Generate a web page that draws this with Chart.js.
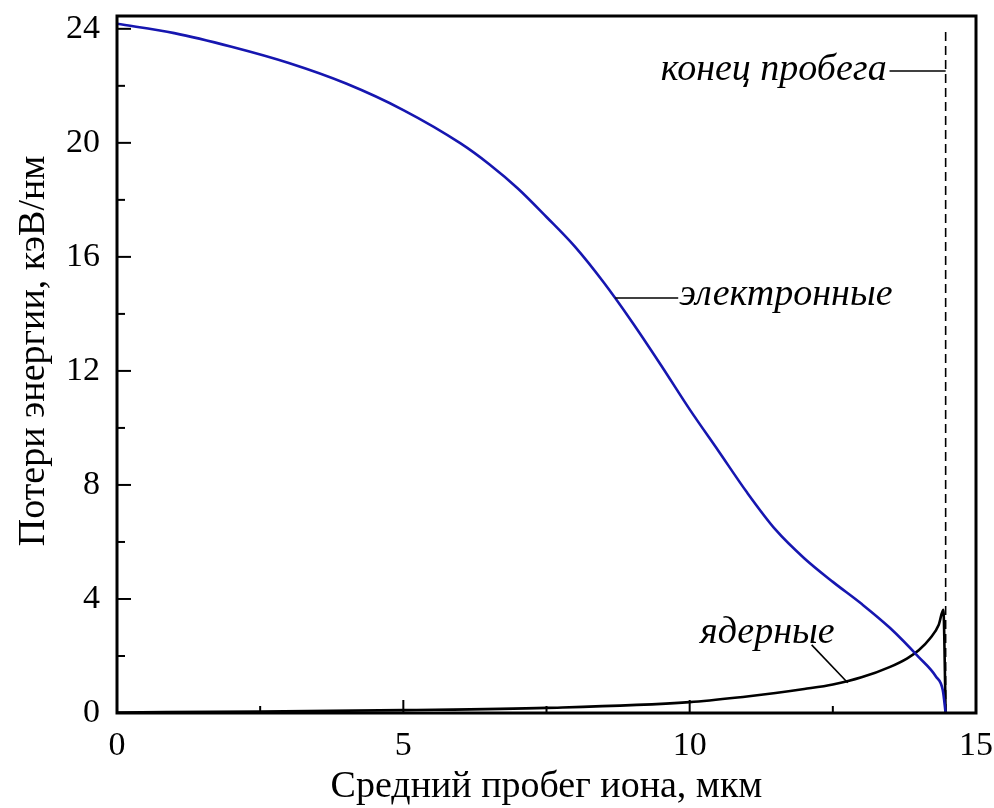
<!DOCTYPE html>
<html>
<head>
<meta charset="utf-8">
<script src="https://cdn.jsdelivr.net/npm/chart.js@4.4.1/dist/chart.umd.min.js"></script>
<style>
  html, body { margin: 0; padding: 0; background: #fff; }
  #wrap { width: 994px; height: 808px; }
</style>
</head>
<body>
<div id="wrap"><canvas id="lossChart"></canvas></div>
<script>
// electronic stopping (blue)
const elecX = [0, 1, 2, 3, 4, 5, 6, 6.5, 7, 7.5, 8, 8.5, 9, 9.5, 10, 10.5, 11, 11.5, 12, 12.5, 13, 13.5, 14, 14.3, 14.42, 14.47];
const elecY = [24.18, 23.85, 23.37, 22.8, 22.08, 21.15, 19.98, 19.25, 18.4, 17.4, 16.35, 15.1, 13.7, 12.2, 10.65, 9.2, 7.74, 6.43, 5.43, 4.6, 3.83, 2.98, 1.96, 1.28, 0.8, 0];

// nuclear stopping (black)
const nuclX = [0, 2.5, 5, 7.5, 10, 11, 11.5, 12, 12.5, 13, 13.5, 13.8, 14, 14.2, 14.35, 14.43, 14.47];
const nuclY = [0.02, 0.05, 0.1, 0.18, 0.38, 0.58, 0.7, 0.84, 1.0, 1.25, 1.62, 1.92, 2.2, 2.62, 3.1, 3.62, 0];

// end of range marker
const rangeEndX = 14.47;
const rangeEndY = [0, 24];

const xTicks = [0, 5, 10, 15];
const xMinor = [2.5, 7.5, 12.5];
const yTicks = [0, 4, 8, 12, 16, 20, 24];
const yMinor = [2, 6, 10, 14, 18, 22];

const yTitle = 'Потери энергии, кэВ/нм';

const notes = [
  { text: 'конец пробега', x: 13.44, y: 22.2, align: 'right', line: [[13.49, 22.52], [14.47, 22.52]] },
  { text: 'электронные', x: 9.82, y: 14.3, align: 'left', line: [[8.70, 14.56], [9.80, 14.56]] },
  { text: 'ядерные', x: 10.18, y: 2.46, align: 'left', line: [[12.13, 2.39], [12.76, 1.06]] }
];

const serif = '"Liberation Serif", "DejaVu Serif", serif';

const zip = (xs, ys) => xs.map((x, i) => ({ x, y: ys[i] }));

// no automatic label padding, the plot box is fixed
function fixBox(s, size) {
  if (s.isHorizontal()) s.height = size; else s.width = size;
  s.paddingTop = s.paddingBottom = s.paddingLeft = s.paddingRight = 0;
}

const framePlugin = {
  id: 'frameAndTicks',
  afterDatasetsDraw(chart) {
    const { ctx, chartArea: a, scales: { x, y } } = chart;
    ctx.save();
    ctx.strokeStyle = '#000';
    ctx.lineWidth = 2;
    xTicks.forEach(v => {
      const px = x.getPixelForValue(v);
      ctx.beginPath(); ctx.moveTo(px, a.bottom); ctx.lineTo(px, a.bottom - 13); ctx.stroke();
    });
    xMinor.forEach(v => {
      const px = x.getPixelForValue(v);
      ctx.beginPath(); ctx.moveTo(px, a.bottom); ctx.lineTo(px, a.bottom - 7); ctx.stroke();
    });
    yTicks.forEach(v => {
      const py = y.getPixelForValue(v);
      ctx.beginPath(); ctx.moveTo(a.left, py); ctx.lineTo(a.left + 14, py); ctx.stroke();
    });
    yMinor.forEach(v => {
      const py = y.getPixelForValue(v);
      ctx.beginPath(); ctx.moveTo(a.left, py); ctx.lineTo(a.left + 8, py); ctx.stroke();
    });
    ctx.lineWidth = 3;
    ctx.strokeRect(a.left, a.top, a.right - a.left, a.bottom - a.top);

    // y title sits a little above the middle of the axis
    ctx.fillStyle = '#000';
    ctx.save();
    ctx.translate(34, y.getPixelForValue(12.7));
    ctx.rotate(-Math.PI / 2);
    ctx.font = '38px ' + serif;
    ctx.textAlign = 'center';
    ctx.textBaseline = 'middle';
    ctx.fillText(yTitle, 0, 0);
    ctx.restore();

    // labels with leader lines
    ctx.lineWidth = 1.6;
    ctx.font = 'italic 38px ' + serif;
    ctx.textBaseline = 'alphabetic';
    notes.forEach(n => {
      ctx.beginPath();
      ctx.moveTo(x.getPixelForValue(n.line[0][0]), y.getPixelForValue(n.line[0][1]));
      ctx.lineTo(x.getPixelForValue(n.line[1][0]), y.getPixelForValue(n.line[1][1]));
      ctx.stroke();
      ctx.textAlign = n.align;
      ctx.fillText(n.text, x.getPixelForValue(n.x), y.getPixelForValue(n.y));
    });
    ctx.restore();
  }
};

new Chart(document.getElementById('lossChart'), {
  type: 'line',
  data: {
    datasets: [
      { label: 'электронные', data: zip(elecX, elecY), borderColor: '#1616b0', borderWidth: 2.6, pointRadius: 0, cubicInterpolationMode: 'monotone' },
      { label: 'ядерные', data: zip(nuclX, nuclY), borderColor: '#000', borderWidth: 2.6, pointRadius: 0, cubicInterpolationMode: 'monotone' },
      { label: 'конец пробега', data: rangeEndY.map(v => ({ x: rangeEndX, y: v })), borderColor: '#000', borderWidth: 1.6, borderDash: [9, 5], pointRadius: 0 }
    ]
  },
  plugins: [framePlugin],
  options: {
    responsive: true,
    maintainAspectRatio: false,
    animation: false,
    layout: { autoPadding: false, padding: { top: 16, right: 18, left: 0, bottom: 0 } },
    plugins: { legend: { display: false }, tooltip: { enabled: false } },
    scales: {
      x: {
        type: 'linear',
        min: 0,
        max: 15,
        afterBuildTicks: s => { s.ticks = xTicks.map(v => ({ value: v })); },
        afterFit: s => fixBox(s, 95),
        grid: { display: false, drawTicks: false },
        border: { display: false },
        ticks: { color: '#000', font: { family: serif, size: 34 }, padding: 13, maxRotation: 0 },
        title: { display: true, text: 'Средний пробег иона, мкм', color: '#000', font: { family: serif, size: 38, lineHeight: 1 }, padding: { top: 0, bottom: 2 } }
      },
      y: {
        type: 'linear',
        min: 0,
        max: 24.45,
        afterBuildTicks: s => { s.ticks = yTicks.map(v => ({ value: v })); },
        afterFit: s => fixBox(s, 117),
        grid: { display: false, drawTicks: false },
        border: { display: false },
        ticks: { color: '#000', font: { family: serif, size: 34 }, padding: 17 }
      }
    }
  }
});
</script>
</body>
</html>
